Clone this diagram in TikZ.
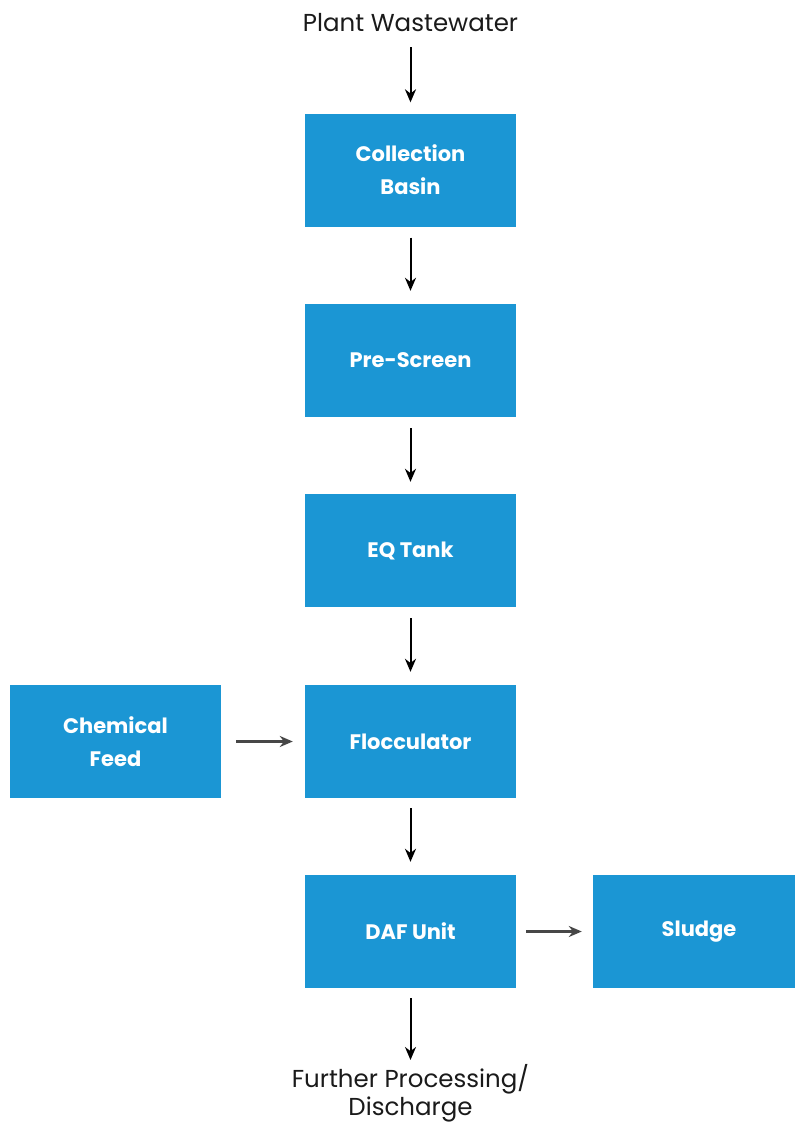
\documentclass[tikz,border=0pt]{standalone}
\usepackage{fontspec}
\setmainfont{Poppins}
\usetikzlibrary{arrows.meta}
\definecolor{boxblue}{HTML}{1B96D4}
\definecolor{txt}{HTML}{1A1A1A}
\tikzset{
  procbox/.style={fill=boxblue, draw=none, minimum width=211pt, minimum height=113pt, inner sep=0pt,
    text=white, font=\fontsize{21}{33}\selectfont\bfseries, align=center},
  plainlbl/.style={text=txt, font=\fontsize{24.5}{28}\selectfont, align=center, inner sep=0pt},
  flow/.style={-{Stealth[length=13pt,width=11pt]}, line width=2pt, black},
  sideflow/.style={-{Stealth[length=13pt,width=11pt]}, line width=2.2pt, black!72}
}
\begin{document}
\begin{tikzpicture}[x=1pt,y=-1pt]
\useasboundingbox (0,0) rectangle (795,1125);
\coordinate (srcend) at (410.5,47);
\node[plainlbl] (src) at (410.5,23) {Plant Wastewater};
\node[procbox] (cb) at (410.5,170) {Collection\\Basin};
\node[procbox] (ps) at (410.5,360.5) {Pre-Screen};
\node[procbox] (eq) at (410.5,550.5) {EQ Tank};
\node[procbox] (fl) at (410.5,741.5) {Flocculator};
\node[procbox] (cf) at (115.5,741.5) {Chemical\\Feed};
\node[procbox] (daf) at (410.5,931.5) {DAF Unit};
\node[procbox, minimum width=212pt] (sl) at (699,931.5) {\raisebox{-2pt}{Sludge}};
\node[plainlbl] (out) at (410.5,1093) {Further Processing/\\Discharge};
\coordinate (outstart) at (410.5,998);
\draw[flow] (srcend) -- ([yshift=11pt]cb.north);
\draw[flow] ([yshift=-11pt]cb.south) -- ([yshift=13pt]ps.north);
\draw[flow] ([yshift=-11pt]ps.south) -- ([yshift=12pt]eq.north);
\draw[flow] ([yshift=-11pt]eq.south) -- ([yshift=13pt]fl.north);
\draw[flow] ([yshift=-10pt]fl.south) -- ([yshift=13pt]daf.north);
\draw[flow] (outstart) -- ([yshift=4pt]out.north);
\draw[sideflow] ([xshift=15pt]cf.east) -- ([xshift=-12pt]fl.west);
\draw[sideflow] ([xshift=10pt]daf.east) -- ([xshift=-11pt]sl.west);
\end{tikzpicture}
\end{document}
